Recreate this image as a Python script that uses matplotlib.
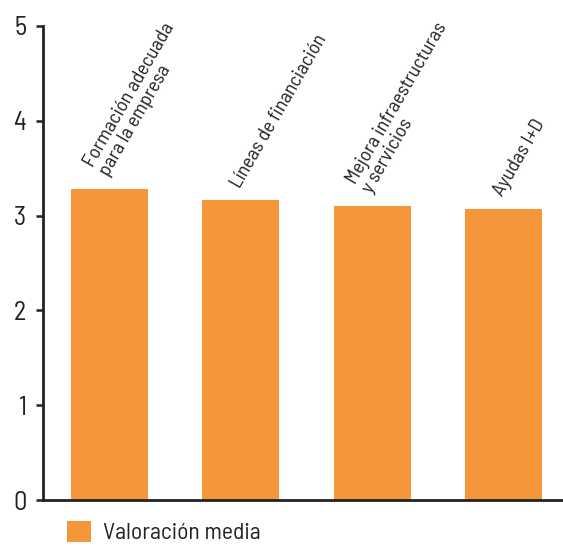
import matplotlib.pyplot as plt
import numpy as np

categorias = ['Formación adecuada\npara la empresa', 'Líneas de financiación',
              'Mejora infraestructuras\ny servicios', 'Ayudas I+D']
valores = [3.28, 3.16, 3.10, 3.07]
serie = 'Valoración media'
color_barra = '#F5963A'

plt.rcParams['font.family'] = ['Barlow Semi Condensed', 'DejaVu Sans']
plt.rcParams['text.color'] = '#222222'

fig = plt.figure(figsize=(5.63, 5.47), dpi=100)
ax = fig.add_axes([0.0764, 0.0859, 0.9236, 0.8666])

x = np.arange(len(categorias))
ax.bar(x, valores, width=0.586, color=color_barra, label=serie)

# etiquetas inclinadas encima de cada barra
for i, (cat, v) in enumerate(zip(categorias, valores)):
    ax.annotate(cat, xy=(i, v), xytext=(2, 7), textcoords='offset points',
                rotation=60, rotation_mode='anchor', ha='left', va='bottom',
                fontsize=14.5, linespacing=1.0)

ax.set_xlim(-0.506, 3.453)
ax.set_ylim(0, 5)
ax.set_yticks(range(6))
ax.set_xticks([])
ax.tick_params(axis='y', labelsize=19, length=5, width=1.8, color='#222222',
               labelcolor='#222222', pad=7)

for s in ['top', 'right']:
    ax.spines[s].set_visible(False)
for s in ['left', 'bottom']:
    ax.spines[s].set_linewidth(2)
    ax.spines[s].set_color('#222222')

fig.legend(loc='lower left', bbox_to_anchor=(0.082, -0.034), frameon=False,
           fontsize=17, handlelength=1.0, handleheight=1.0, handletextpad=0.5)

fig.savefig('out.png', dpi=100)
